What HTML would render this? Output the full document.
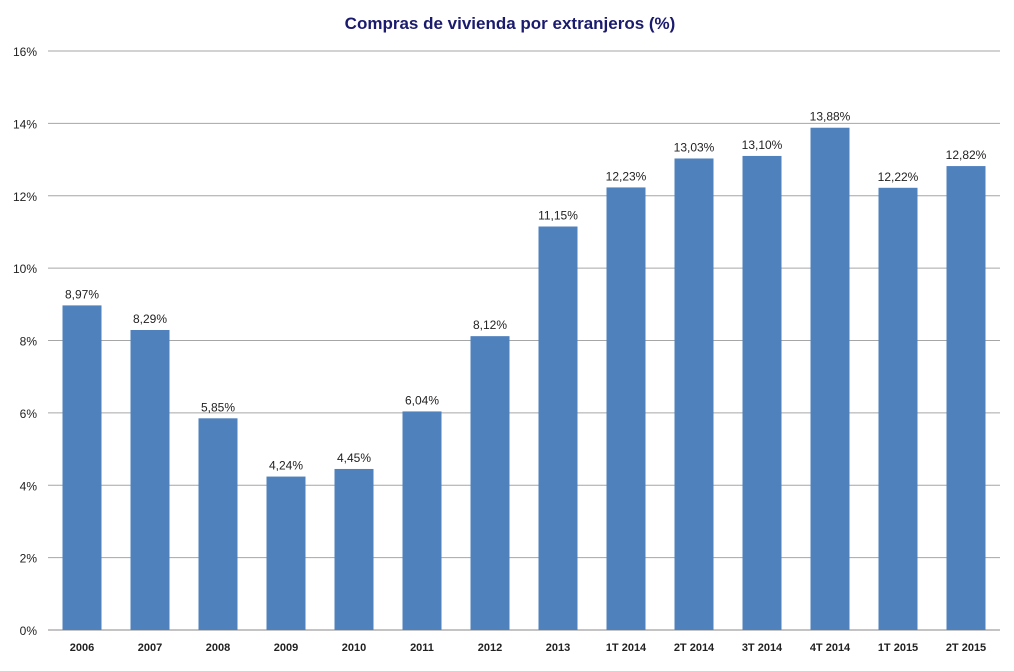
<!DOCTYPE html>
<html><head><meta charset="utf-8"><style>
body{margin:0;background:#fff;}
svg text{font-family:"Liberation Sans",sans-serif;}
</style></head><body>
<svg id="chart" width="1014" height="666" xmlns="http://www.w3.org/2000/svg">
<text x="510" y="29" text-anchor="middle" font-size="17" font-weight="bold" fill="#1a1a6e">Compras de vivienda por extranjeros (%)</text>
<g id="grid"></g><g id="bars"></g><g id="labels"></g><g id="xlabels"></g><g id="ylabels"></g>
</svg>
<script>
const categories=["2006","2007","2008","2009","2010","2011","2012","2013","1T 2014","2T 2014","3T 2014","4T 2014","1T 2015","2T 2015"];
const values=[8.97,8.29,5.85,4.24,4.45,6.04,8.12,11.15,12.23,13.03,13.10,13.88,12.22,12.82];
const valueLabels=["8,97%","8,29%","5,85%","4,24%","4,45%","6,04%","8,12%","11,15%","12,23%","13,03%","13,10%","13,88%","12,22%","12,82%"];
const yTicks=[0,2,4,6,8,10,12,14,16];
const NS="http://www.w3.org/2000/svg";
const plotLeft=48,plotRight=1000,plotTop=51,plotBottom=630,yMax=16;
const step=(plotRight-plotLeft)/categories.length;
const yS=v=>plotBottom-(v/yMax)*(plotBottom-plotTop);
const xS=i=>plotLeft+step*i+step/2;
function mk(t,a,p){const e=document.createElementNS(NS,t);for(const k in a)e.setAttribute(k,a[k]);document.getElementById(p).appendChild(e);return e;}
yTicks.forEach(t=>{
  const l=mk('line',{x1:plotLeft,x2:plotRight,y1:yS(t),y2:yS(t),stroke:t===0?'#888':'#a6a6a6','stroke-width':1},'grid');
  
  
  const tx=mk('text',{x:37,y:yS(t)+5,'text-anchor':'end','font-size':12,fill:'#222'},'ylabels');
  tx.textContent=t+'%';
  
  
});
const bw=39;
values.forEach((v,i)=>{
  const r=mk('rect',{x:xS(i)-bw/2,y:yS(v),width:bw,height:plotBottom-yS(v),fill:'#4f81bd'},'bars');
  
  
  const t=mk('text',{x:xS(i),y:yS(v)-7,'text-anchor':'middle','font-size':12,fill:'#222'},'labels');
  t.textContent=valueLabels[i];
  
  
  const c=mk('text',{x:xS(i),y:651,'text-anchor':'middle','font-size':11,'font-weight':'bold',fill:'#222'},'xlabels');
  c.textContent=categories[i];
  
  
});
</script>
</body></html>
